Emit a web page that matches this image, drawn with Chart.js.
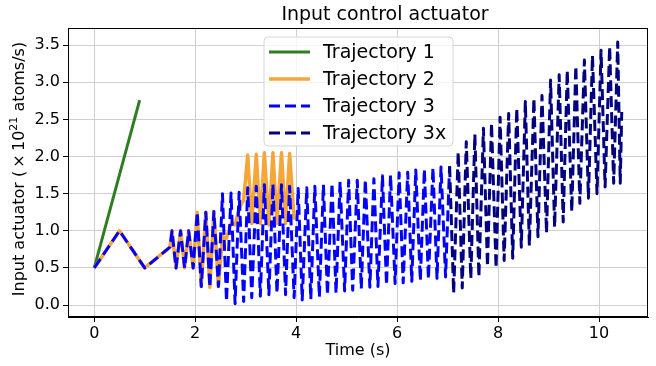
<!DOCTYPE html>
<html>
<head>
<meta charset="utf-8">
<script src="https://cdn.jsdelivr.net/npm/chart.js@4.4.1/dist/chart.umd.min.js"></script>
<style>
  html, body { margin: 0; padding: 0; background: #fff; }
</style>
</head>
<body>
<canvas id="actuatorChart" width="656" height="366"></canvas>
<script>
// turning points (time in s, value in 1e21 atoms/s)
var t1 = [0, 0.9];
var v1 = [0.5, 2.76];

var t2 = [0, 0.5, 1.0, 1.5,
    1.54, 1.62, 1.71, 1.79, 1.87, 1.96,
    2.04, 2.12, 2.21, 2.29, 2.37, 2.46,
    2.54, 2.62, 2.71, 2.79, 2.87, 2.96,
    3.04, 3.12, 3.21, 3.29, 3.37, 3.46, 3.54, 3.62, 3.71, 3.79, 3.87, 3.96];
var v2 = [0.5, 1.0, 0.5, 0.78,
    1.0, 0.5, 1.0, 0.5, 1.0, 0.5,
    1.25, 0.25, 1.25, 0.24, 1.26, 0.25,
    0.92, 0.9, 1.1, 1.08, 1.3, 1.42,
    2.02, 1.1, 2.03, 1.1, 2.05, 1.08, 2.05, 1.1, 2.05, 1.1, 2.04, 1.15];

var t3 = [0, 0.5, 1.0, 1.5,
    1.54, 1.62, 1.71, 1.79, 1.87, 1.96,
    2.04, 2.12, 2.21, 2.29, 2.37, 2.46,
    2.54, 2.62, 2.71, 2.79, 2.87, 2.96,
    3.04, 3.12, 3.21, 3.29, 3.37, 3.46, 3.54, 3.62, 3.71, 3.79, 3.87, 3.96,
    4.04, 4.12, 4.21, 4.29, 4.37, 4.46, 4.54, 4.62, 4.71, 4.79, 4.87, 4.96,
    5.04, 5.12, 5.21, 5.29, 5.37, 5.46, 5.54, 5.62, 5.71, 5.79, 5.87, 5.96,
    6.04, 6.12, 6.21, 6.29, 6.37, 6.46, 6.54, 6.62, 6.71, 6.79, 6.87, 6.96, 7.04];
var v3 = [0.5, 1.0, 0.5, 0.78,
    1.0, 0.5, 1.0, 0.5, 1.0, 0.5,
    1.25, 0.25, 1.25, 0.24, 1.26, 0.25,
    1.5, 0.05, 1.51, 0.02, 1.52, 0.05,
    1.58, 0.1, 1.6, 0.12, 1.62, 0.14, 1.63, 0.16, 1.62, 0.14, 1.6, 0.1,
    1.57, 0.07, 1.58, 0.08, 1.6, 0.11, 1.62, 0.14, 1.64, 0.16, 1.66, 0.19,
    1.68, 0.2, 1.68, 0.22, 1.69, 0.24, 1.7, 0.25, 1.74, 0.27, 1.75, 0.29,
    1.78, 0.3, 1.79, 0.32, 1.82, 0.33, 1.83, 0.35, 1.85, 0.36, 1.86, 0.38, 1.87];

var t3x = [7.04,
    7.12, 7.21, 7.29, 7.37, 7.46, 7.54, 7.62, 7.71, 7.79, 7.87,
    7.96, 8.04, 8.12, 8.21, 8.29, 8.37, 8.46, 8.54, 8.62, 8.71,
    8.79, 8.87, 8.96, 9.04, 9.12, 9.21, 9.29, 9.37, 9.46, 9.54,
    9.62, 9.71, 9.79, 9.87, 9.96, 10.04, 10.12, 10.21, 10.29, 10.37,
    10.42, 10.45];
var v3x = [1.87,
    0.16, 2.06, 0.23, 2.2, 0.36, 2.3, 0.38, 2.38, 0.52, 2.45,
    0.5, 2.53, 0.6, 2.58, 0.63, 2.65, 0.78, 2.74, 0.8, 2.78,
    0.92, 2.82, 0.97, 3.03, 1.05, 3.1, 1.12, 3.16, 1.26, 3.22,
    1.37, 3.3, 1.44, 3.36, 1.5, 3.43, 1.59, 3.48, 1.64, 3.54,
    1.64, 2.6];

var seriesNames = ['Trajectory 1', 'Trajectory 2', 'Trajectory 3', 'Trajectory 3x'];
var xTicks = [0, 2, 4, 6, 8, 10];
var yTicks = [0, 0.5, 1.0, 1.5, 2.0, 2.5, 3.0, 3.5];

var FONT = '"DejaVu Sans", "Liberation Sans", sans-serif';

function toPoints(ts, vs) {
    return ts.map(function(t, i) { return { x: t, y: vs[i] }; });
}

// frame, legend, title and y label drawn on top like matplotlib does
var decorPlugin = {
    id: 'decor',
    afterDatasetsDraw: function(chart) {
        var c = chart.ctx;
        var a = chart.chartArea;
        c.save();
        c.strokeStyle = '#000';
        c.lineWidth = 1;
        c.strokeRect(a.left + 0.5, a.top + 0.5, a.right - a.left - 1, a.bottom - a.top - 1);

        // legend box
        var bx = 264, by = 37, bw = 189, bh = 109, r = 4;
        c.beginPath();
        c.moveTo(bx + r, by);
        c.arcTo(bx + bw, by, bx + bw, by + bh, r);
        c.arcTo(bx + bw, by + bh, bx, by + bh, r);
        c.arcTo(bx, by + bh, bx, by, r);
        c.arcTo(bx, by, bx + bw, by, r);
        c.closePath();
        c.fillStyle = 'rgba(255,255,255,0.8)';
        c.fill();
        c.strokeStyle = '#d6d6d6';
        c.stroke();

        c.font = '19px ' + FONT;
        c.textBaseline = 'middle';
        c.textAlign = 'left';
        chart.data.datasets.forEach(function(ds, i) {
            var y = by + 15 + i * 27;
            c.beginPath();
            c.setLineDash(ds.borderDash || []);
            c.lineCap = 'butt';
            c.strokeStyle = ds.borderColor;
            c.lineWidth = ds.borderWidth;
            c.moveTo(bx + 5, y);
            c.lineTo(bx + 46, y);
            c.stroke();
            c.setLineDash([]);
            c.fillStyle = '#000';
            c.fillText(ds.label, bx + 59, y + 1);
        });

        // title
        c.font = '19px ' + FONT;
        c.textAlign = 'center';
        c.fillText('Input control actuator', 385, 15);

        // y label with a real superscript
        var parts = [['Input actuator (\u2009\u00d7\u200910', 16, 0], ['21', 11, -7], [' atoms/s)', 16, 0]];
        var total = 0;
        parts.forEach(function(p) {
            c.font = p[1] + 'px ' + FONT;
            p.push(c.measureText(p[0]).width);
            total += p[3];
        });
        c.translate(18, 169);
        c.rotate(-Math.PI / 2);
        c.textAlign = 'left';
        c.textBaseline = 'alphabetic';
        var x = -total / 2;
        parts.forEach(function(p) {
            c.font = p[1] + 'px ' + FONT;
            c.fillText(p[0], x, 6 + p[2]);
            x += p[3];
        });
        c.restore();
    }
};

var ctx = document.getElementById('actuatorChart');
var chart = new Chart(ctx, {
    type: 'line',
    data: {
        datasets: [{
            label: seriesNames[0],
            data: toPoints(t1, v1),
            borderColor: '#2f7d22',
            borderWidth: 3,
            order: 4
        }, {
            label: seriesNames[1],
            data: toPoints(t2, v2),
            borderColor: '#f4a638',
            borderWidth: 3.5,
            order: 3
        }, {
            label: seriesNames[2],
            data: toPoints(t3, v3),
            borderColor: '#0000ff',
            borderWidth: 3,
            borderDash: [11, 5],
            order: 2
        }, {
            label: seriesNames[3],
            data: toPoints(t3x, v3x),
            borderColor: '#000080',
            borderWidth: 3,
            borderDash: [11, 5],
            order: 1
        }]
    },
    options: {
        responsive: false,
        animation: false,
        devicePixelRatio: 1,
        layout: { padding: { left: 0, right: 8, top: 28, bottom: 0 } },
        elements: {
            point: { radius: 0 },
            line: { tension: 0, borderJoinStyle: 'round', borderCapStyle: 'butt' }
        },
        plugins: {
            legend: { display: false },
            tooltip: { enabled: false },
            title: { display: false }
        },
        scales: {
            x: {
                type: 'linear',
                min: -0.52,
                max: 10.97,
                afterBuildTicks: function(scale) {
                    scale.ticks = xTicks.map(function(v) { return { value: v }; });
                },
                afterFit: function(scale) { scale.height = 49; },
                ticks: {
                    font: { family: FONT, size: 16 },
                    color: '#000',
                    padding: 2,
                    maxRotation: 0,
                    callback: function(v) { return String(v); }
                },
                grid: { color: '#cfcfcf', tickColor: '#000', tickLength: 5 },
                border: { color: '#000', width: 1 },
                title: {
                    display: true,
                    text: 'Time (s)',
                    color: '#000',
                    font: { family: FONT, size: 16 },
                    padding: { top: 0, bottom: 6 }
                }
            },
            y: {
                type: 'linear',
                min: -0.16,
                max: 3.73,
                afterBuildTicks: function(scale) {
                    scale.ticks = yTicks.map(function(v) { return { value: v }; });
                },
                afterFit: function(scale) { scale.width = 68; },
                ticks: {
                    font: { family: FONT, size: 16 },
                    color: '#000',
                    padding: 3,
                    callback: function(v) { return Number(v).toFixed(1); }
                },
                grid: { color: '#cfcfcf', tickColor: '#000', tickLength: 5 },
                border: { color: '#000', width: 1 }
            }
        }
    },
    plugins: [decorPlugin]
});
</script>
</body>
</html>
